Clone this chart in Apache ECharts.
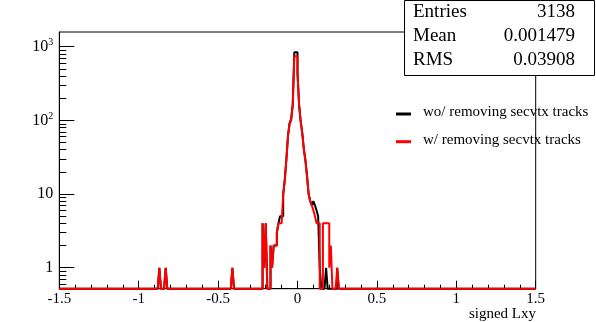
<!DOCTYPE html>
<html><head><meta charset="utf-8">
<script src="https://cdn.jsdelivr.net/npm/echarts@6/dist/echarts.min.js"></script>
<style>html,body{margin:0;padding:0;background:#fff}#c{width:596px;height:322px}</style>
</head><body><div id="c"></div>
<script>
// ---- data ----
const xMin = -1.5, xMax = 1.5, binWidth = 0.01;
const yMin = 0.519, yMax = 1585;
const xTickValues = [-1.5, -1, -0.5, 0, 0.5, 1, 1.5];
const yMajorTicks = [1, 10, 100, 1000];
const yMinorTicks = [0.6,0.7,0.8,0.9,2,3,4,5,6,7,8,9,20,30,40,50,60,70,80,90,200,300,400,500,600,700,800,900];
// non-empty bins: lower bin edge and counts
const redEdges  = [-0.87,-0.83,-0.41,-0.22,-0.21,-0.20,-0.17,-0.16,-0.15,-0.14,-0.13,-0.12,-0.11,-0.10,-0.09,-0.08,-0.07,-0.06,-0.05,-0.04,-0.03,-0.02,-0.01,0.00,0.01,0.02,0.03,0.04,0.05,0.06,0.07,0.08,0.09,0.10,0.11,0.12,0.13,0.16,0.17,0.18,0.19,0.20,0.21,0.25];
const redCounts = [1,1,1,4,1,4,2,1,2,2,3,4,4,4,10,15,29,60,90,100,161,745,745,434,161,96,66,40,28,17,10,8,7,6,5,4,4,4,4,4,4,1,2,1];
const blackEdges  = [-0.87,-0.83,-0.41,-0.22,-0.21,-0.20,-0.17,-0.16,-0.15,-0.14,-0.13,-0.12,-0.11,-0.10,-0.09,-0.08,-0.07,-0.06,-0.05,-0.04,-0.03,-0.02,-0.01,0.00,0.01,0.02,0.03,0.04,0.05,0.06,0.07,0.08,0.09,0.10,0.11,0.12,0.13,0.14,0.18,0.25];
const blackCounts = [1,1,1,4,1,4,2,1,2,2,3,4,5,5,10,16,30,62,92,104,165,840,840,440,163,98,68,41,29,18,10,8,7,8,7,6,5,1,1,1];
const seriesNames = ['wo/ removing secvtx tracks', 'w/ removing secvtx tracks'];
const statNames = ['Entries', 'Mean', 'RMS'];
const statValues = ['3138', '0.001479', '0.03908'];
const xTitle = 'signed Lxy';

// ---- build step outlines ----
function buildSteps(edges, counts) {
  const n = Math.round((xMax - xMin) / binWidth);
  const h = new Array(n).fill(0);
  edges.forEach((e, i) => { h[Math.round((e - xMin) / binWidth)] = counts[i]; });
  const pts = [];
  for (let i = 0; i < n; i++) {
    const x0 = +(xMin + i * binWidth).toFixed(4), x1 = +(xMin + (i + 1) * binWidth).toFixed(4);
    const v = h[i] > 0 ? h[i] : yMin;
    pts.push([x0, v], [x1, v]);
  }
  return pts;
}

const FONT = '"Liberation Serif", "Times New Roman", serif';
const chart = echarts.init(document.getElementById('c'), null, {renderer: 'canvas'});
const G = {left: 59.3, top: 32, width: 476.4, height: 256.7};

chart.setOption({
  animation: false,
  backgroundColor: '#fff',
  grid: {left: G.left, top: G.top, width: G.width, height: G.height, show: true, borderColor: '#000', borderWidth: 1, backgroundColor: 'transparent'},
  xAxis: {
    type: 'value', min: xMin, max: xMax, interval: 0.5,
    axisLine: {show: true, onZero: false, lineStyle: {color: '#000', width: 1}},
    axisTick: {show: true, inside: true, length: 8, lineStyle: {color: '#000'}},
    minorTick: {show: true, splitNumber: 5, length: 4, lineStyle: {color: '#000'}},
    splitLine: {show: false},
    axisLabel: {color: '#000', fontFamily: FONT, fontSize: 15, margin: 3,
      customValues: xTickValues, formatter: v => String(v)}
  },
  yAxis: [{
    type: 'log', logBase: 10, min: yMin, max: yMax, position: 'left',
    axisLine: {show: true, onZero: false, lineStyle: {color: '#000', width: 1}},
    axisTick: {show: true, inside: true, length: 15, lineStyle: {color: '#000'}, customValues: yMajorTicks},
    splitLine: {show: false},
    axisLabel: {color: '#000', fontFamily: FONT, fontSize: 16, margin: 6,
      customValues: yMajorTicks,
      formatter: v => {
        const e = Math.round(Math.log10(v));
        if (e <= 0) return '1';
        if (e === 1) return '10';
        return '10{s|' + e + '}';
      },
      rich: {s: {fontFamily: FONT, fontSize: 10, verticalAlign: 'top', padding: [0, 0, 8, 0], color: '#000'}}
    }
  }, {
    type: 'log', logBase: 10, min: yMin, max: yMax, position: 'left', offset: 0,
    axisLine: {show: false, onZero: false},
    axisTick: {show: true, inside: true, length: 7, lineStyle: {color: '#000'}, customValues: yMinorTicks},
    splitLine: {show: false},
    axisLabel: {show: false}
  }],
  series: [{
    name: seriesNames[0], type: 'line', data: buildSteps(blackEdges, blackCounts),
    showSymbol: false, symbol: 'none', clip: false,
    lineStyle: {color: '#000', width: 2}, z: 2
  }, {
    name: seriesNames[1], type: 'line', data: buildSteps(redEdges, redCounts),
    showSymbol: false, symbol: 'none', clip: false,
    lineStyle: {color: '#ff0000', width: 2}, z: 3
  }],
  graphic: [
    {type: 'rect', z: 100, shape: {x: 404.5, y: 0.5, width: 190, height: 75}, style: {fill: '#fff', stroke: '#000', lineWidth: 1}},
    ...statNames.map((s, i) => ({type: 'text', z: 101, left: 413, top: 3 + i * 23.8,
      style: {text: s, fill: '#000', font: '19px ' + FONT}})),
    ...statValues.map((s, i) => ({type: 'text', z: 101, right: 21, top: 3 + i * 23.8,
      style: {text: s, fill: '#000', font: '19px ' + FONT}})),
    {type: 'line', z: 101, shape: {x1: 396, y1: 114, x2: 411, y2: 114}, style: {stroke: '#000', lineWidth: 3}},
    {type: 'line', z: 101, shape: {x1: 396, y1: 141.7, x2: 411, y2: 141.7}, style: {stroke: '#ff0000', lineWidth: 3}},
    {type: 'text', z: 101, left: 423, top: 105, style: {text: seriesNames[0], fill: '#000', font: '15px ' + FONT}},
    {type: 'text', z: 101, left: 423, top: 132.5, style: {text: seriesNames[1], fill: '#000', font: '15px ' + FONT}},
    {type: 'text', z: 101, right: 60, top: 307, style: {text: xTitle, fill: '#000', font: '15px ' + FONT}}
  ]
});
</script></body></html>
